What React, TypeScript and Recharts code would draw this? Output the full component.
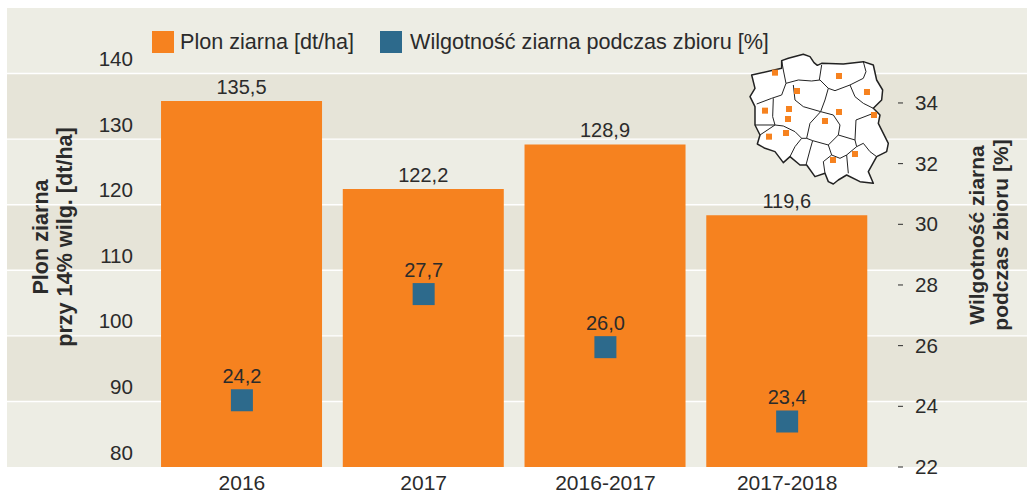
import React from "react";
import { ComposedChart, Bar, Line, XAxis, YAxis, ReferenceArea, LabelList, Legend } from "recharts";

const categories = ["2016", "2017", "2016-2017", "2017-2018"];
const barHeights = [135.8, 122.4, 129.2, 118.4];
const barLabels = ["135,5", "122,2", "128,9", "119,6"];
const moisture = [24.2, 27.7, 25.95, 23.5];
const moistureLabels = ["24,2", "27,7", "26,0", "23,4"];
const leftTicks = [80, 90, 100, 110, 120, 130, 140];
const rightTicks = [22, 24, 26, 28, 30, 32, 34];
const darkBands = [[90, 100], [110, 120], [130, 140]];
const gridLines = [90, 100, 110, 120, 130, 140];
const categoryPositions = [0, 1, 2, 3];
const legendItems = [
  { name: "Plon ziarna [dt/ha]", color: "#F6821F", x: 152, tx: 180 },
  { name: "Wilgotność ziarna podczas zbioru [%]", color: "#2D6A8C", x: 380, tx: 410 },
];

const FONT = "'Liberation Sans', Arial, sans-serif";
const TEXT = "#2b2b2b";

const table = categories.map((c, i) => ({
  pos: categoryPositions[i],
  plon: barHeights[i],
  plonLabel: barLabels[i],
  wilg: moisture[i],
  wilgLabel: moistureLabels[i],
}));

const outline = "245,182 265,175 310,163 330,170 342,188 352,196 365,190 430,192 490,185 520,195 530,240 548,270 545,300 520,325 540,345 535,370 550,400 565,430 560,455 530,470 505,515 520,550 480,545 440,525 415,540 400,552 385,545 375,520 345,530 320,495 300,495 270,470 250,488 225,455 195,445 172,432 180,405 165,375 165,320 150,290 165,265 155,225 245,205";
const borders = [
  "245,182 250,210 258,250",
  "258,250 245,285 215,295 170,312",
  "365,195 358,240",
  "258,250 295,240 335,243 360,240 385,265",
  "385,265 405,272 450,255 490,235 498,215 490,185",
  "450,255 465,290 490,310 520,325",
  "280,255 285,300 310,320 362,335",
  "385,265 375,300 362,335",
  "220,295 218,350 225,375",
  "165,375 225,375 180,405",
  "362,335 330,370 320,415",
  "225,375 250,378 285,395 305,415 320,415",
  "305,415 285,440 270,470",
  "338,422 330,450 318,495",
  "320,415 338,422 385,435",
  "362,335 400,345 420,375 415,405",
  "415,405 385,435",
  "415,405 465,420",
  "465,420 468,360 520,340",
  "465,420 470,440 490,430 510,455 530,470",
  "385,435 395,465 420,475 440,465 470,440",
  "440,465 445,520",
  "395,465 370,485 375,520",
];
const mapPoints = [[225,218],[417,228],[291,273],[501,276],[195,332],[267,327],[417,336],[522,345],[264,357],[375,363],[258,399],[207,410],[465,462],[399,480]];

const LeftTick = (p: any) => (
  <text x={133} y={p.y - 7.5} textAnchor="end" fontSize={20.6} fontFamily={FONT} fill={TEXT}>{p.payload.value}</text>
);
const RightTick = (p: any) => (
  <g>
    <line x1={898} x2={903} y1={p.y} y2={p.y} stroke={TEXT} strokeWidth={1} />
    <text x={915} y={p.y + 7} fontSize={20.6} fontFamily={FONT} fill={TEXT}>{p.payload.value}</text>
  </g>
);
const Square = (p: any) => (
  <rect key={p.index} x={p.cx - 11} y={p.cy - 11} width={22} height={22} fill="#2D6A8C" />
);
const LegendContent = () => (
  <div style={{ position: "relative", height: 30, fontFamily: FONT, fontSize: 21.6, color: TEXT }}>
    {legendItems.map((l) => (
      <React.Fragment key={l.name}>
        <span style={{ position: "absolute", left: l.x, top: 0, width: 22, height: 22, background: l.color }} />
        <span style={{ position: "absolute", left: l.tx, top: -1, lineHeight: "23px", whiteSpace: "nowrap" }}>{l.name}</span>
      </React.Fragment>
    ))}
  </div>
);

export default function App() {
  return (
    <div style={{ position: "absolute", left: 0, top: 0, width: 1027, height: 499, overflow: "hidden", background: "#fff" }}>
      <ComposedChart width={1028} height={499} data={table} margin={{ top: 8, right: 0, bottom: 0, left: 6 }}>
        <XAxis dataKey="pos" type="number" domain={[-1.2925, 4.3197]} ticks={categoryPositions} allowDataOverflow
          tickFormatter={(v: number) => categories[v]} axisLine={false} tickLine={false} height={32}
          tick={{ fontSize: 21, fontFamily: FONT, fill: TEXT }} interval={0} />
        <YAxis yAxisId="left" domain={[80, 150]} ticks={leftTicks} width={1} axisLine={false} tickLine={false} tick={LeftTick} />
        <YAxis yAxisId="right" orientation="right" domain={[22, 37.13]} ticks={rightTicks} width={1} axisLine={false} tickLine={false} tick={RightTick} />
        <ReferenceArea yAxisId="left" y1={80} y2={150} fill="#EDEDE4" fillOpacity={1} stroke="none" />
        {darkBands.map(([a, b]) => (
          <ReferenceArea key={a} yAxisId="left" y1={a} y2={b} fill="#E6E4D8" fillOpacity={1} stroke="none" />
        ))}
        {gridLines.map((v) => (
          <ReferenceArea key={v} yAxisId="left" y1={v - 0.11} y2={v + 0.11} fill="#fff" fillOpacity={1} stroke="none" />
        ))}
        <Legend verticalAlign="middle" align="center" content={<LegendContent />}
          wrapperStyle={{ position: "absolute", left: 0, top: 31, width: 1027, margin: 0 }} />
        <Bar yAxisId="left" dataKey="plon" fill="#F6821F" barSize={161} isAnimationActive={false}>
          <LabelList dataKey="plonLabel" position="top" offset={7} fontSize={20} fontFamily={FONT} fill={TEXT} />
        </Bar>
        <Line yAxisId="right" dataKey="wilg" stroke="none" dot={Square} activeDot={false} legendType="none" isAnimationActive={false}>
          <LabelList dataKey="wilgLabel" position="top" offset={17} fontSize={20} fontFamily={FONT} fill={TEXT} />
        </Line>
      </ComposedChart>

      <svg width={1027} height={499} style={{ position: "absolute", left: 0, top: 0, pointerEvents: "none" }}>
        <g fontFamily={FONT} fontWeight="bold" fill={TEXT} textAnchor="middle">
          <text fontSize={21.6} transform="translate(48,237) rotate(-90)">Plon ziarna</text>
          <text fontSize={21.6} transform="translate(72,237) rotate(-90)">przy 14% wilg. [dt/ha]</text>
          <text fontSize={21} transform="translate(984,235) rotate(-90)">Wilgotność ziarna</text>
          <text fontSize={21} transform="translate(1008,235) rotate(-90)">podczas zbioru [%]</text>
        </g>
        <g transform="translate(700,0) scale(0.3333)">
          <polygon points={outline} fill="#fff" stroke="#222" strokeWidth={4.5} strokeLinejoin="round" />
          {borders.map((b) => (
            <polyline key={b} points={b} fill="none" stroke="#222" strokeWidth={3} strokeLinejoin="round" />
          ))}
          {mapPoints.map(([x, y]) => (
            <rect key={`${x}-${y}`} x={x - 9} y={y - 9} width={18} height={18} fill="#F6821F" />
          ))}
        </g>
      </svg>
    </div>
  );
}
